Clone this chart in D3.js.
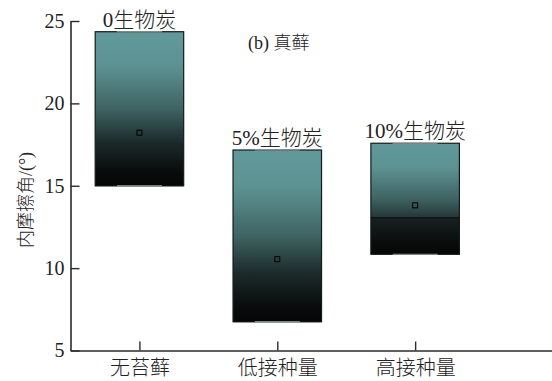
<!DOCTYPE html>
<html>
<head>
<meta charset="utf-8">
<script src="https://cdn.jsdelivr.net/npm/d3@7/dist/d3.min.js"></script>
<style>
  html, body { margin: 0; padding: 0; background: #fff; }
  svg { display: block; }
  text { font-family: "Liberation Serif", "Noto Sans CJK SC", serif; fill: #222; font-weight: 300; }
</style>
</head>
<body>
<svg id="chart" width="552" height="381"></svg>
<script>
// Internal friction angle of moss crusts (b) under biochar treatments
const categories = ["无苔藓", "低接种量", "高接种量"];
const boxLabels = ["0生物炭", "5%生物炭", "10%生物炭"];
const q1Values = [15.0, 6.75, 10.84];
const medianValues = [15.0, 6.75, 13.06];
const q3Values = [24.35, 17.17, 17.58];
const meanValues = [18.22, 10.54, 13.81];
const yTicks = [5, 10, 15, 20, 25];
const panelLabel = "(b) 真藓";
const yTitle = "内摩擦角/(°)";

const svg = d3.select("#chart");
const axisColor = "#2b2b2b";

const x = d3.scaleLinear().domain([0.5, 4]).range([70.5, 553]);
const y = d3.scaleLinear().domain([5, 25]).range([350.5, 21]);
const boxW = 88.5;
const capW = 45;

// Gradient fills: teal at the top of a box fading to black at its bottom
const defs = svg.append("defs");
const upper = defs.append("linearGradient")
  .attr("id", "boxFill").attr("x1", 0).attr("y1", 0).attr("x2", 0).attr("y2", 1);
[[0, "#61999a"], [0.22, "#5d9292"], [0.5, "#3f6363"], [0.72, "#1c2a2a"], [0.9, "#0a0d0d"], [1, "#050505"]]
  .forEach(([o, c]) => upper.append("stop").attr("offset", o).attr("stop-color", c));
const lower = defs.append("linearGradient")
  .attr("id", "lowFill").attr("x1", 0).attr("y1", 0).attr("x2", 0).attr("y2", 1);
[[0, "#172121"], [0.5, "#0d1111"], [1, "#050505"]]
  .forEach(([o, c]) => lower.append("stop").attr("offset", o).attr("stop-color", c));

const idx = categories.map((_, i) => i);
const boxes = svg.append("g");

idx.forEach(i => {
  const cx = x(i + 1);
  const g = boxes.append("g");
  // whole box
  g.append("rect")
    .attr("x", cx - boxW / 2).attr("y", y(q3Values[i]))
    .attr("width", boxW).attr("height", y(q1Values[i]) - y(q3Values[i]))
    .attr("fill", "url(#boxFill)");
  // lower quartile section
  if (medianValues[i] > q1Values[i]) {
    g.append("rect")
      .attr("x", cx - boxW / 2).attr("y", y(medianValues[i]))
      .attr("width", boxW).attr("height", y(q1Values[i]) - y(medianValues[i]))
      .attr("fill", "url(#lowFill)");
  }
  // outline
  g.append("rect")
    .attr("x", cx - boxW / 2).attr("y", y(q3Values[i]))
    .attr("width", boxW).attr("height", y(q1Values[i]) - y(q3Values[i]))
    .attr("fill", "none").attr("stroke", "#141c1c").attr("stroke-width", 1.2);
  // median
  g.append("line")
    .attr("x1", cx - boxW / 2).attr("x2", cx + boxW / 2)
    .attr("y1", y(medianValues[i])).attr("y2", y(medianValues[i]))
    .attr("stroke", "#111").attr("stroke-width", 1.2);
  // whisker caps (coincide with the box edges)
  [q3Values[i], q1Values[i]].forEach(v => {
    g.append("line")
      .attr("x1", cx - capW / 2).attr("x2", cx + capW / 2)
      .attr("y1", y(v)).attr("y2", y(v))
      .attr("stroke", "#9aa0a0").attr("stroke-width", 1);
  });
  // mean marker
  g.append("rect")
    .attr("x", cx - 2.5).attr("y", y(meanValues[i]) - 2.5)
    .attr("width", 5).attr("height", 5)
    .attr("fill", "none").attr("stroke", "#000").attr("stroke-width", 1);
  // treatment label above the box
  svg.append("text")
    .attr("x", cx).attr("y", y(q3Values[i]) - 5)
    .attr("text-anchor", "middle").attr("font-size", 21)
    .text(boxLabels[i]);
});

// Y axis with inward ticks
const yAxis = svg.append("g").attr("transform", `translate(${x(0.5)},0)`)
  .call(d3.axisLeft(y).tickValues(yTicks).tickSizeInner(-9).tickSizeOuter(0).tickPadding(6));
yAxis.select(".domain").attr("stroke", axisColor).attr("stroke-width", 1.6);
yAxis.selectAll(".tick line").attr("stroke", axisColor).attr("stroke-width", 1.4);
yAxis.selectAll(".tick text")
  .attr("font-size", 20).attr("font-family", "Liberation Serif").attr("fill", "#222");

// X axis with inward ticks
const xAxis = svg.append("g").attr("transform", `translate(0,${y(5)})`)
  .call(d3.axisBottom(x).tickValues(idx.map(i => i + 1))
    .tickFormat(d => categories[d - 1]).tickSizeInner(-9).tickSizeOuter(0).tickPadding(10));
xAxis.select(".domain").attr("stroke", axisColor).attr("stroke-width", 1.6);
xAxis.selectAll(".tick text")
  .attr("font-size", 20).attr("font-family", "Liberation Serif, Noto Sans CJK SC")
  .attr("font-weight", 300).attr("fill", "#222");
xAxis.selectAll(".tick line").attr("stroke", axisColor).attr("stroke-width", 1.4);

// Panel label
svg.append("text")
  .attr("x", 248).attr("y", 49)
  .attr("font-size", 18)
  .text(panelLabel);

// Y axis title
svg.append("text")
  .attr("transform", `translate(32,${200}) rotate(-90)`)
  .attr("text-anchor", "middle").attr("font-size", 18)
  .text(yTitle);
</script>
</body>
</html>
